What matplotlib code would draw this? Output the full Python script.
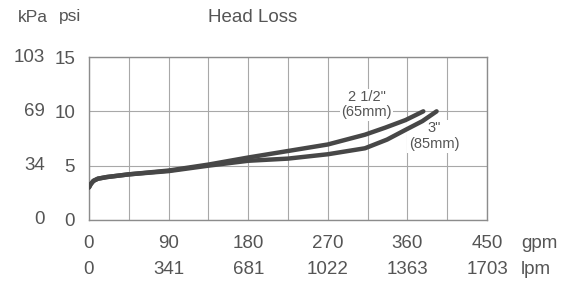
import numpy as np
import matplotlib
matplotlib.use("Agg")
import matplotlib.pyplot as plt
import matplotlib.transforms as mtransforms

plt.rcParams['font.family'] = ['Liberation Sans', 'DejaVu Sans']

# Data
gpm_ticks = [0, 90, 180, 270, 360, 450]
lpm_labels = ["0", "341", "681", "1022", "1363", "1703"]
psi_ticks = [0, 5, 10, 15]
kpa_labels = ["0", "34", "69", "103"]

flow_65mm = [0, 2, 5, 10, 20, 45, 90, 135, 180, 225, 270, 312, 335, 358, 378]
loss_65mm = [3.0, 3.3, 3.6, 3.8, 3.95, 4.2, 4.55, 5.1, 5.75, 6.35, 6.95, 7.85, 8.5, 9.2, 10.0]

flow_85mm = [0, 2, 5, 10, 20, 45, 90, 135, 180, 225, 270, 312, 337, 358, 377, 393]
loss_85mm = [3.0, 3.3, 3.6, 3.8, 3.95, 4.2, 4.5, 5.0, 5.45, 5.65, 6.05, 6.6, 7.4, 8.3, 9.1, 10.0]

TEXT = '#555555'
LINE = '#474747'
GRID = '#a8a8a8'
FS = 13.5

fig = plt.figure(figsize=(5.77, 2.86), dpi=100)
ax = fig.add_axes([89 / 577, 1 - 220 / 286, 398 / 577, 163 / 286])

ax.plot(flow_65mm, loss_65mm, color=LINE, lw=3.2, solid_capstyle='round',
        solid_joinstyle='round', zorder=3)
ax.plot(flow_85mm, loss_85mm, color=LINE, lw=3.2, solid_capstyle='round',
        solid_joinstyle='round', zorder=3)

ax.set_xlim(0, 450)
ax.set_ylim(0, 15)
ax.set_xticks(np.arange(0, 451, 45))
ax.set_xticklabels([str(v) if v in gpm_ticks else '' for v in np.arange(0, 451, 45)])
ax.set_yticks(psi_ticks)
ax.set_yticklabels([str(v) for v in psi_ticks])
ax.tick_params(length=0, colors=TEXT, labelsize=FS)
ax.tick_params(axis='x', pad=11)
ax.tick_params(axis='y', pad=10)
ax.grid(True, color=GRID, lw=0.8)
for s in ax.spines.values():
    s.set_color('#8c8c8c')
    s.set_linewidth(1.0)

# kPa column on the left
tr_y = mtransforms.blended_transform_factory(ax.transAxes, ax.transData)
for v, lab in zip(psi_ticks, kpa_labels):
    ax.text(-0.11, v, lab, transform=tr_y, ha='right', va='center',
            fontsize=FS, color=TEXT)

# lpm row under the gpm row
tr_x = mtransforms.blended_transform_factory(ax.transData, fig.transFigure)
for v, lab in zip(gpm_ticks, lpm_labels):
    ax.text(v, 1 - 270 / 286, lab, transform=tr_x, ha='center', va='center',
            fontsize=FS, color=TEXT)
fig.text(539 / 577, 1 - 243 / 286, 'gpm', ha='center', va='center', fontsize=FS, color=TEXT)
fig.text(536 / 577, 1 - 269 / 286, 'lpm', ha='center', va='center', fontsize=FS, color=TEXT)

# header
fig.text(33 / 577, 1 - 17 / 286, 'kPa', ha='center', va='center', fontsize=FS - 1, color=TEXT)
fig.text(70 / 577, 1 - 17 / 286, 'psi', ha='center', va='center', fontsize=FS - 1, color=TEXT)
fig.text(208 / 577, 1 - 17 / 286, 'Head Loss', ha='left', va='center', fontsize=FS, color=TEXT)

# curve labels (above grid, below the curves)
ax.text(314, 10.6, '2 1/2"\n(65mm)', ha='center', va='center', fontsize=10.5,
        color=TEXT, linespacing=1.1, zorder=2.5,
        bbox=dict(facecolor='white', edgecolor='none', pad=1))
ax.text(390, 7.7, '3"\n(85mm)', ha='center', va='center', fontsize=10.5,
        color=TEXT, linespacing=1.2, zorder=2.5,
        bbox=dict(facecolor='white', edgecolor='none', pad=1))

fig.savefig('out.png', dpi=100)
